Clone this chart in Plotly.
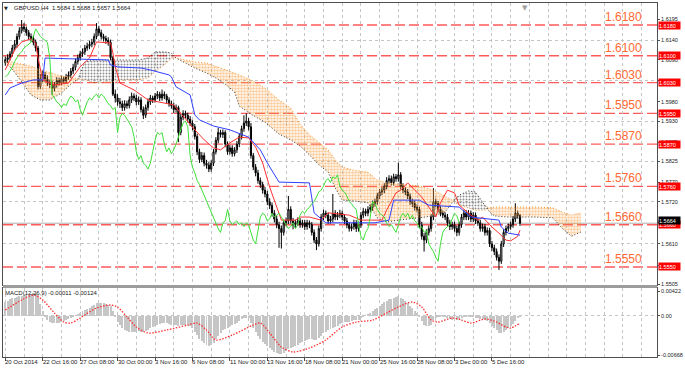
import plotly.graph_objects as go
import numpy as np

# ---------------- price data (H4 bars, GBPUSD) ----------------
opens = [
    1.6082, 1.6090, 1.6095, 1.6105, 1.6120, 1.6130, 1.6150, 1.6165, 1.6175, 1.6170,
    1.6160, 1.6150, 1.6145, 1.6135, 1.6120, 1.6020, 1.6040, 1.6050, 1.6040, 1.6030,
    1.6025, 1.6015, 1.6025, 1.6035, 1.6030, 1.6040, 1.6035, 1.6045, 1.6050, 1.6060,
    1.6070, 1.6085, 1.6095, 1.6105, 1.6110, 1.6120, 1.6125, 1.6130, 1.6135, 1.6150,
    1.6170, 1.6160, 1.6150, 1.6145, 1.6140, 1.6135, 1.6095, 1.6000, 1.5990, 1.5980,
    1.5975, 1.5965, 1.5975, 1.5970, 1.5985, 1.5995, 1.5990, 1.5980, 1.5985, 1.5960,
    1.5945, 1.5965, 1.5980, 1.5990, 1.5985, 1.5995, 1.6000, 1.5990, 1.6000, 1.5995,
    1.5985, 1.5975, 1.5970, 1.5960, 1.5965, 1.5900, 1.5940, 1.5950, 1.5945, 1.5935, 1.5925,
    1.5915, 1.5890, 1.5850, 1.5830, 1.5840, 1.5820, 1.5815, 1.5805, 1.5820, 1.5850,
    1.5880, 1.5900, 1.5895, 1.5900, 1.5870, 1.5850, 1.5860, 1.5845, 1.5855, 1.5870,
    1.5890, 1.5910, 1.5925, 1.5930, 1.5915, 1.5840, 1.5810, 1.5795, 1.5775, 1.5765,
    1.5750, 1.5740, 1.5720, 1.5710, 1.5690, 1.5675, 1.5660, 1.5650, 1.5640, 1.5665,
    1.5670, 1.5700, 1.5670, 1.5660, 1.5665, 1.5670, 1.5660, 1.5665, 1.5655, 1.5665,
    1.5660, 1.5640, 1.5620, 1.5610, 1.5650, 1.5680, 1.5690, 1.5685, 1.5670, 1.5675,
    1.5690, 1.5680, 1.5685, 1.5690, 1.5680, 1.5670, 1.5660, 1.5650, 1.5655, 1.5665,
    1.5650, 1.5660, 1.5685, 1.5695, 1.5690, 1.5700, 1.5705, 1.5715, 1.5720, 1.5735,
    1.5745, 1.5750, 1.5760, 1.5775, 1.5780, 1.5770, 1.5785, 1.5780, 1.5790, 1.5760,
    1.5750, 1.5745, 1.5735, 1.5720, 1.5715, 1.5705, 1.5700, 1.5660, 1.5630, 1.5620,
    1.5640, 1.5650, 1.5680, 1.5720, 1.5715, 1.5700, 1.5690, 1.5685, 1.5680, 1.5665, 1.5655,
    1.5660, 1.5650, 1.5640, 1.5660, 1.5680, 1.5690, 1.5680, 1.5690, 1.5675, 1.5685,
    1.5670, 1.5665, 1.5650, 1.5655, 1.5640, 1.5645, 1.5610, 1.5600, 1.5590, 1.5575,
    1.5565, 1.5610, 1.5640, 1.5650, 1.5655, 1.5660, 1.5675, 1.5690, 1.5684,
]
highs = [
    1.6098, 1.6104, 1.6112, 1.6128, 1.6141, 1.6158, 1.6174, 1.6193, 1.6185, 1.6176,
    1.6167, 1.6158, 1.6153, 1.6142, 1.6126, 1.6052, 1.6061, 1.6058, 1.6049, 1.6038,
    1.6034, 1.6032, 1.6044, 1.6043, 1.6048, 1.6046, 1.6053, 1.6059, 1.6068, 1.6079,
    1.6093, 1.6103, 1.6113, 1.6119, 1.6128, 1.6134, 1.6139, 1.6144, 1.6158, 1.6185,
    1.6178, 1.6168, 1.6157, 1.6152, 1.6148, 1.6142, 1.6100, 1.6012, 1.6000, 1.5990,
    1.5983, 1.5984, 1.5983, 1.5994, 1.6004, 1.6002, 1.5998, 1.5994, 1.5992, 1.5968,
    1.5973, 1.5989, 1.5998, 1.5996, 1.6003, 1.6008, 1.6006, 1.6012, 1.6007, 1.6001,
    1.5992, 1.5983, 1.5978, 1.5973, 1.5970, 1.5948, 1.5958, 1.5957, 1.5952, 1.5943, 1.5932,
    1.5922, 1.5897, 1.5858, 1.5849, 1.5848, 1.5829, 1.5823, 1.5828, 1.5857, 1.5888,
    1.5912, 1.5907, 1.5908, 1.5906, 1.5877, 1.5868, 1.5867, 1.5862, 1.5878, 1.5898,
    1.5918, 1.5945, 1.5950, 1.5938, 1.5925, 1.5847, 1.5818, 1.5803, 1.5783, 1.5772,
    1.5758, 1.5748, 1.5729, 1.5718, 1.5698, 1.5684, 1.5668, 1.5658, 1.5673, 1.5679,
    1.5735, 1.5708, 1.5678, 1.5673, 1.5679, 1.5677, 1.5673, 1.5672, 1.5673, 1.5671,
    1.5667, 1.5648, 1.5628, 1.5658, 1.5688, 1.5699, 1.5697, 1.5692, 1.5683, 1.5740,
    1.5698, 1.5693, 1.5699, 1.5697, 1.5688, 1.5678, 1.5667, 1.5663, 1.5673, 1.5672,
    1.5668, 1.5693, 1.5704, 1.5702, 1.5708, 1.5713, 1.5723, 1.5728, 1.5743, 1.5753,
    1.5758, 1.5768, 1.5784, 1.5789, 1.5788, 1.5793, 1.5792, 1.5822, 1.5797, 1.5768,
    1.5758, 1.5753, 1.5742, 1.5728, 1.5723, 1.5713, 1.5707, 1.5668, 1.5638, 1.5648,
    1.5658, 1.5688, 1.5755, 1.5728, 1.5722, 1.5708, 1.5697, 1.5692, 1.5688, 1.5673, 1.5668,
    1.5668, 1.5658, 1.5668, 1.5688, 1.5699, 1.5698, 1.5698, 1.5697, 1.5693, 1.5692,
    1.5678, 1.5673, 1.5663, 1.5662, 1.5653, 1.5652, 1.5618, 1.5608, 1.5598, 1.5583,
    1.5618, 1.5648, 1.5658, 1.5663, 1.5668, 1.5683, 1.5716, 1.5697, 1.5688,
]
lows = [
    1.6074, 1.6081, 1.6088, 1.6098, 1.6112, 1.6121, 1.6142, 1.6158, 1.6162, 1.6152,
    1.6141, 1.6136, 1.6127, 1.6111, 1.6012, 1.6013, 1.6031, 1.6032, 1.6021, 1.6016,
    1.5998, 1.6007, 1.6017, 1.6022, 1.6023, 1.6027, 1.6028, 1.6037, 1.6042, 1.6052,
    1.6062, 1.6077, 1.6087, 1.6097, 1.6102, 1.6113, 1.6117, 1.6122, 1.6127, 1.6143,
    1.6152, 1.6142, 1.6137, 1.6131, 1.6126, 1.6088, 1.5995, 1.5978, 1.5970, 1.5964,
    1.5956, 1.5957, 1.5962, 1.5963, 1.5977, 1.5982, 1.5971, 1.5972, 1.5952, 1.5935,
    1.5938, 1.5957, 1.5972, 1.5977, 1.5978, 1.5987, 1.5982, 1.5983, 1.5987, 1.5977,
    1.5967, 1.5962, 1.5951, 1.5952, 1.5875, 1.5893, 1.5932, 1.5937, 1.5926, 1.5917, 1.5906,
    1.5882, 1.5841, 1.5821, 1.5823, 1.5812, 1.5806, 1.5797, 1.5798, 1.5813, 1.5843,
    1.5872, 1.5887, 1.5886, 1.5862, 1.5842, 1.5843, 1.5837, 1.5838, 1.5847, 1.5862,
    1.5882, 1.5902, 1.5917, 1.5906, 1.5832, 1.5802, 1.5786, 1.5767, 1.5756, 1.5741,
    1.5731, 1.5711, 1.5701, 1.5681, 1.5666, 1.5651, 1.5600, 1.5598, 1.5632, 1.5656,
    1.5662, 1.5663, 1.5648, 1.5652, 1.5657, 1.5652, 1.5652, 1.5646, 1.5647, 1.5651,
    1.5632, 1.5612, 1.5594, 1.5603, 1.5642, 1.5672, 1.5677, 1.5662, 1.5663, 1.5667,
    1.5672, 1.5672, 1.5677, 1.5672, 1.5662, 1.5651, 1.5642, 1.5643, 1.5647, 1.5641,
    1.5642, 1.5652, 1.5677, 1.5682, 1.5682, 1.5692, 1.5697, 1.5707, 1.5712, 1.5727,
    1.5737, 1.5742, 1.5752, 1.5767, 1.5762, 1.5762, 1.5772, 1.5772, 1.5752, 1.5742,
    1.5737, 1.5727, 1.5712, 1.5706, 1.5697, 1.5692, 1.5652, 1.5621, 1.5590, 1.5612,
    1.5632, 1.5642, 1.5672, 1.5706, 1.5692, 1.5682, 1.5677, 1.5672, 1.5657, 1.5646, 1.5647,
    1.5642, 1.5630, 1.5632, 1.5652, 1.5672, 1.5672, 1.5672, 1.5667, 1.5667, 1.5662,
    1.5657, 1.5642, 1.5642, 1.5632, 1.5632, 1.5602, 1.5592, 1.5581, 1.5567, 1.5542,
    1.5558, 1.5602, 1.5632, 1.5642, 1.5647, 1.5652, 1.5667, 1.5676, 1.5657,
]
closes = [
    1.6090, 1.6095, 1.6105, 1.6120, 1.6130, 1.6150, 1.6165, 1.6175, 1.6170, 1.6160,
    1.6150, 1.6145, 1.6135, 1.6120, 1.6020, 1.6040, 1.6050, 1.6040, 1.6030, 1.6025,
    1.6015, 1.6025, 1.6035, 1.6030, 1.6040, 1.6035, 1.6045, 1.6050, 1.6060, 1.6070,
    1.6085, 1.6095, 1.6105, 1.6110, 1.6120, 1.6125, 1.6130, 1.6135, 1.6150, 1.6170,
    1.6160, 1.6150, 1.6145, 1.6140, 1.6135, 1.6095, 1.6000, 1.5990, 1.5980, 1.5975,
    1.5965, 1.5975, 1.5970, 1.5985, 1.5995, 1.5990, 1.5980, 1.5985, 1.5960, 1.5945,
    1.5965, 1.5980, 1.5990, 1.5985, 1.5995, 1.6000, 1.5990, 1.6000, 1.5995, 1.5985,
    1.5975, 1.5970, 1.5960, 1.5965, 1.5900, 1.5940, 1.5950, 1.5945, 1.5935, 1.5925, 1.5915,
    1.5890, 1.5850, 1.5830, 1.5840, 1.5820, 1.5815, 1.5805, 1.5820, 1.5850, 1.5880,
    1.5900, 1.5895, 1.5900, 1.5870, 1.5850, 1.5860, 1.5845, 1.5855, 1.5870, 1.5890,
    1.5910, 1.5925, 1.5930, 1.5915, 1.5840, 1.5810, 1.5795, 1.5775, 1.5765, 1.5750,
    1.5740, 1.5720, 1.5710, 1.5690, 1.5675, 1.5660, 1.5650, 1.5640, 1.5665, 1.5670,
    1.5700, 1.5670, 1.5660, 1.5665, 1.5670, 1.5660, 1.5665, 1.5655, 1.5665, 1.5660,
    1.5640, 1.5620, 1.5610, 1.5650, 1.5680, 1.5690, 1.5685, 1.5670, 1.5675, 1.5690,
    1.5680, 1.5685, 1.5690, 1.5680, 1.5670, 1.5660, 1.5650, 1.5655, 1.5665, 1.5650,
    1.5660, 1.5685, 1.5695, 1.5690, 1.5700, 1.5705, 1.5715, 1.5720, 1.5735, 1.5745,
    1.5750, 1.5760, 1.5775, 1.5780, 1.5770, 1.5785, 1.5780, 1.5790, 1.5760, 1.5750,
    1.5745, 1.5735, 1.5720, 1.5715, 1.5705, 1.5700, 1.5660, 1.5630, 1.5620, 1.5640,
    1.5650, 1.5680, 1.5720, 1.5715, 1.5700, 1.5690, 1.5685, 1.5680, 1.5665, 1.5655, 1.5660,
    1.5650, 1.5640, 1.5660, 1.5680, 1.5690, 1.5680, 1.5690, 1.5675, 1.5685, 1.5670,
    1.5665, 1.5650, 1.5655, 1.5640, 1.5645, 1.5610, 1.5600, 1.5590, 1.5575, 1.5565,
    1.5610, 1.5640, 1.5650, 1.5655, 1.5660, 1.5675, 1.5690, 1.5684, 1.5664,
]

# ---------------- Ichimoku ----------------
tenkan_bars = [0, 4, 7, 11, 13, 14, 16, 21, 27, 32, 36, 39, 45, 46, 47, 49, 55, 61, 72, 80,
               85, 89, 92, 96, 100, 104, 107, 110, 113, 116, 118, 124, 126, 130, 135, 138, 147,
               152, 161, 163, 167, 169, 172, 175, 178, 181, 184, 186, 189, 192, 194, 199, 202,
               204, 208, 211, 214, 216, 219, 220]
tenkan = [1.6063, 1.6115, 1.6136, 1.6144, 1.6133, 1.6094, 1.6037, 1.6024, 1.6029, 1.6071,
          1.6094, 1.6136, 1.6133, 1.6107, 1.6071, 1.6029, 1.6011, 1.5985, 1.5972, 1.5914,
          1.5881, 1.5860, 1.5855, 1.5873, 1.5888, 1.5886, 1.5862, 1.5821, 1.5758, 1.5706,
          1.5672, 1.5672, 1.5680, 1.5680, 1.5672, 1.5691, 1.5685, 1.5672, 1.5672, 1.5698,
          1.5743, 1.5750, 1.5769, 1.5750, 1.5732, 1.5706, 1.5680, 1.5717, 1.5750, 1.5743,
          1.5711, 1.5685, 1.5672, 1.5680, 1.5654, 1.5638, 1.5620, 1.5618, 1.5630, 1.5646]

kijun_bars = [0, 2, 7, 12, 16, 17, 44, 45, 48, 58, 62, 70, 71, 73, 79, 81, 83, 89, 96, 104,
              109, 112, 117, 130, 132, 137, 158, 164, 166, 177, 181, 194, 199, 211, 212, 215, 220]
kijun = [1.5998, 1.6016, 1.6029, 1.6037, 1.6037, 1.6094, 1.6089, 1.6076, 1.6071, 1.6068,
         1.6063, 1.6050, 1.6045, 1.6019, 1.5998, 1.5946, 1.5933, 1.5917, 1.5907, 1.5888,
         1.5855, 1.5821, 1.5771, 1.5769, 1.5691, 1.5665, 1.5665, 1.5672, 1.5724, 1.5724,
         1.5711, 1.5706, 1.5680, 1.5672, 1.5654, 1.5638, 1.5633]

cloud_bars = [0, 3, 7, 11, 15, 19, 24, 28, 31, 34, 38, 45, 51, 57, 61, 64, 68, 71, 73, 77,
              81, 86, 90, 94, 98, 100, 105, 111, 117, 122, 126, 130, 134, 138, 141, 144, 149,
              155, 159, 163, 168, 177, 183, 188, 191, 194, 198, 201, 205, 207, 209, 215, 220,
              227, 234, 238, 242, 246]
span_a = [1.6084, 1.6084, 1.6078, 1.6073, 1.6063, 1.6055, 1.6047, 1.6045, 1.6039, 1.6037,
          1.6029, 1.6032, 1.6037, 1.6037, 1.6042, 1.6058, 1.6076, 1.6094, 1.6094, 1.6089,
          1.6084, 1.6081, 1.6073, 1.6063, 1.6055, 1.6050, 1.6037, 1.6016, 1.5985, 1.5964,
          1.5922, 1.5894, 1.5875, 1.5855, 1.5829, 1.5810, 1.5802, 1.5797, 1.5776, 1.5769,
          1.5766, 1.5761, 1.5750, 1.5735, 1.5724, 1.5711, 1.5704, 1.5698, 1.5698, 1.5704,
          1.5706, 1.5706, 1.5706, 1.5706, 1.5704, 1.5693, 1.5685, 1.5691]
span_b = [1.6081, 1.6065, 1.6032, 1.5998, 1.5985, 1.5985, 1.6003, 1.6026, 1.6039, 1.6084,
          1.6089, 1.6089, 1.6089, 1.6089, 1.6094, 1.6110, 1.6110, 1.6107, 1.6094, 1.6081,
          1.6068, 1.6055, 1.6042, 1.6026, 1.6006, 1.5969, 1.5948, 1.5927, 1.5896, 1.5881,
          1.5865, 1.5842, 1.5816, 1.5797, 1.5756, 1.5724, 1.5722, 1.5717, 1.5678, 1.5667,
          1.5672, 1.5678, 1.5683, 1.5693, 1.5717, 1.5737, 1.5748, 1.5745, 1.5711, 1.5693,
          1.5683, 1.5680, 1.5680, 1.5680, 1.5678, 1.5651, 1.5630, 1.5641]
chikou_shift = 26

# ---------------- MACD (12,26,9) ----------------
macd_main = [
    0.0024, 0.0026, 0.0028, 0.0030, 0.0031, 0.0032, 0.0033, 0.0034, 0.0035, 0.0036,
    0.0036, 0.0037, 0.0039, 0.0038, 0.0035, 0.0020, 0.0008, -0.0002, -0.0008, -0.0011,
    -0.0013, -0.0012, -0.0013, -0.0012, -0.0010, -0.0009, -0.0008, -0.0006, -0.0004, -0.0002,
    0.0000, 0.0002, 0.0005, 0.0008, 0.0010, 0.0012, 0.0014, 0.0016, 0.0018, 0.0021,
    0.0022, 0.0022, 0.0021, 0.0020, 0.0019, 0.0017, 0.0008, -0.0002, -0.0010, -0.0016,
    -0.0021, -0.0024, -0.0026, -0.0027, -0.0028, -0.0028, -0.0027, -0.0026, -0.0027, -0.0028,
    -0.0026, -0.0024, -0.0021, -0.0019, -0.0017, -0.0015, -0.0014, -0.0013, -0.0013, -0.0013,
    -0.0014, -0.0015, -0.0015, -0.0015, -0.0017, -0.0016, -0.0015, -0.0015, -0.0016, -0.0018, -0.0021,
    -0.0027, -0.0033, -0.0039, -0.0043, -0.0047, -0.0050, -0.0052, -0.0050, -0.0046, -0.0040,
    -0.0034, -0.0029, -0.0025, -0.0022, -0.0020, -0.0018, -0.0016, -0.0014, -0.0012, -0.0009,
    -0.0006, -0.0004, -0.0003, -0.0004, -0.0012, -0.0020, -0.0027, -0.0034, -0.0040, -0.0045,
    -0.0048, -0.0052, -0.0055, -0.0058, -0.0061, -0.0063, -0.0065, -0.0065, -0.0063, -0.0060,
    -0.0056, -0.0054, -0.0053, -0.0051, -0.0049, -0.0047, -0.0045, -0.0043, -0.0041, -0.0040,
    -0.0040, -0.0041, -0.0041, -0.0038, -0.0034, -0.0030, -0.0027, -0.0025, -0.0023, -0.0021,
    -0.0019, -0.0017, -0.0014, -0.0012, -0.0011, -0.0010, -0.0010, -0.0009, -0.0008, -0.0008,
    -0.0007, -0.0004, -0.0002, 0.0000, 0.0003, 0.0005, 0.0008, 0.0011, 0.0014, 0.0017,
    0.0020, 0.0023, 0.0026, 0.0028, 0.0029, 0.0031, 0.0032, 0.0033, 0.0031, 0.0028,
    0.0025, 0.0021, 0.0017, 0.0013, 0.0009, 0.0004, -0.0002, -0.0009, -0.0015, -0.0018,
    -0.0018, -0.0015, -0.0008, -0.0004, -0.0002, -0.0001, -0.0001, -0.0002, -0.0004, -0.0006, -0.0007,
    -0.0008, -0.0008, -0.0006, -0.0004, -0.0002, -0.0002, -0.0001, -0.0002, -0.0002, -0.0003,
    -0.0004, -0.0005, -0.0006, -0.0008, -0.0009, -0.0013, -0.0017, -0.0021, -0.0025, -0.0029,
    -0.0029, -0.0027, -0.0024, -0.0021, -0.0018, -0.0014, -0.0009, -0.0004, -0.00011,
]
signal_bars = [0, 7, 12, 16, 21, 25, 28, 32, 39, 45, 48, 52, 56, 61, 69, 78, 82, 86, 90, 97,
               106, 109, 113, 118, 123, 130, 137, 144, 150, 157, 163, 168, 174, 178, 182, 185,
               191, 195, 199, 205, 209, 214, 216, 220]
signal = [0.00099, 0.00269, 0.00354, 0.00269, 0.00048, -0.00106, -0.00123, -0.00037, 0.00133,
          0.00184, 0.00150, -0.00020, -0.00191, -0.00293, -0.00242, -0.00157, -0.00123, -0.00242,
          -0.00412, -0.00327, -0.00157, -0.00123, -0.00293, -0.00531, -0.00616, -0.00548, -0.00412,
          -0.00191, -0.00106, -0.00072, 0.00048, 0.00150, 0.00235, 0.00150, -0.00072, -0.00106,
          -0.00037, -0.00072, -0.00123, -0.00054, -0.00089, -0.00191, -0.00208, -0.00124]

# ---------------- levels, ticks, labels ----------------
levels = [1.6180, 1.6100, 1.6030, 1.5950, 1.5870, 1.5760, 1.5660, 1.5550]
bid_price = 1.5664
price_ticks = [1.6195, 1.6140, 1.6090, 1.6035, 1.5980, 1.5930, 1.5875, 1.5825, 1.5770,
               1.5720, 1.5665, 1.5610, 1.5555, 1.5505]
price_grid = [1.6140, 1.6035, 1.5930, 1.5825, 1.5720, 1.5610]
macd_ticks = [0.00422, 0.0, -0.00668]
macd_tick_text = ["0.00422", "0.00", "-0.00668"]
time_bars = [0, 16, 32, 48, 64, 80, 96, 112, 128, 144, 160, 176, 192, 208]
time_labels = ["20 Oct 2014", "22 Oct 16:00", "27 Oct 08:00", "30 Oct 00:00", "3 Nov 16:00",
               "6 Nov 08:00", "11 Nov 00:00", "13 Nov 16:00", "18 Nov 08:00", "21 Nov 00:00",
               "25 Nov 16:00", "28 Nov 08:00", "3 Dec 00:00", "5 Dec 16:00"]
title_text = "GBPUSD,H4  1.5684 1.5688 1.5657 1.5664"
macd_text = "MACD(12,26,9) -0.00011 -0.00124"

FONT = "Liberation Sans, Arial, sans-serif"
ORANGE = "#f89a38"
LEVEL_RED = "#ff5a5a"
LABEL_ORANGE = "#ff6a33"
SMALL = 6

n = len(closes)
bars = list(range(n))

fig = go.Figure()

# Ichimoku cloud (dotted hatch)
a_arr = np.array(span_a)
b_arr = np.array(span_b)
cloud_top = np.maximum(a_arr, b_arr)
fig.add_trace(go.Scatter(x=cloud_bars, y=span_b, mode="lines", line=dict(width=0),
                         hoverinfo="skip"))
fig.add_trace(go.Scatter(x=cloud_bars, y=cloud_top, mode="lines", line=dict(width=0),
                         fill="tonexty", fillcolor="rgba(0,0,0,0)",
                         fillpattern=dict(shape=".", fgcolor=ORANGE, bgcolor="rgba(255,255,255,0)",
                                          size=3, solidity=0.6), hoverinfo="skip"))
fig.add_trace(go.Scatter(x=cloud_bars, y=span_a, mode="lines", line=dict(width=0),
                         hoverinfo="skip"))
fig.add_trace(go.Scatter(x=cloud_bars, y=cloud_top, mode="lines", line=dict(width=0),
                         fill="tonexty", fillcolor="rgba(0,0,0,0)",
                         fillpattern=dict(shape=".", fgcolor="#222222", bgcolor="rgba(255,255,255,0)",
                                          size=3, solidity=0.35), hoverinfo="skip"))
fig.add_trace(go.Scatter(x=cloud_bars, y=span_a, mode="lines",
                         line=dict(color=ORANGE, width=1, dash="1px,2px")))
fig.add_trace(go.Scatter(x=cloud_bars, y=span_b, mode="lines",
                         line=dict(color="#333333", width=1, dash="1px,2px")))

# candles
fig.add_trace(go.Candlestick(
    x=bars, open=opens, high=highs, low=lows, close=closes,
    increasing=dict(line=dict(color="black", width=1), fillcolor="white"),
    decreasing=dict(line=dict(color="black", width=1), fillcolor="black"),
    whiskerwidth=0, xaxis="x", yaxis="y"))

# Ichimoku lines
fig.add_trace(go.Scatter(x=tenkan_bars, y=tenkan, mode="lines",
                         line=dict(color="#ff3030", width=1)))
fig.add_trace(go.Scatter(x=kijun_bars, y=kijun, mode="lines",
                         line=dict(color="#3040ff", width=1)))
fig.add_trace(go.Scatter(x=bars[:n - chikou_shift], y=closes[chikou_shift:], mode="lines",
                         line=dict(color="#3ee03a", width=1)))

# MACD pane
fig.add_trace(go.Bar(x=bars, y=macd_main, marker=dict(color="#c6c6c6", line=dict(width=0)),
                     width=0.42, xaxis="x2", yaxis="y2"))
fig.add_trace(go.Scatter(x=signal_bars, y=signal, mode="lines",
                         line=dict(color="#ff3030", width=1.3, dash="1.5px,1.5px",
                                   shape="spline", smoothing=0.8),
                         xaxis="x2", yaxis="y2"))

grid_major = [b for b in range(16, 281, 16)]
grid_minor = [b for b in range(8, 281, 16)]
x_range = [-0.977, 278.55]
axis_line = "#505050"
grid_col = "#c4c4c4"

fig.update_layout(
    width=685, height=370,
    margin=dict(l=2, r=25, t=3, b=13, pad=0),
    paper_bgcolor="white", plot_bgcolor="white",
    showlegend=False,
    bargap=0,
    font=dict(family=FONT, size=SMALL, color="black"),
    xaxis=dict(domain=[0, 1], anchor="y", range=x_range, rangeslider=dict(visible=False),
               tickmode="array", tickvals=grid_major, showticklabels=False, ticks="",
               showgrid=True, gridcolor=grid_col, griddash="dot", gridwidth=1,
               minor=dict(tickvals=grid_minor, showgrid=True, gridcolor=grid_col, griddash="dot",
                          ticks=""),
               zeroline=False, showline=True, mirror=True, linecolor=axis_line, linewidth=1),
    xaxis2=dict(domain=[0, 1], anchor="y2", range=x_range, matches="x",
                tickmode="array", tickvals=time_bars, showticklabels=False,
                ticks="outside", ticklen=3, tickcolor=axis_line,
                showgrid=True, gridcolor=grid_col, griddash="dot",
                minor=dict(tickvals=grid_minor + [b for b in grid_major if b not in time_bars],
                           showgrid=True, gridcolor=grid_col, griddash="dot", ticks=""),
                zeroline=False, showline=True, mirror=True, linecolor=axis_line, linewidth=1),
    yaxis=dict(domain=[0.2034, 1], anchor="x", side="right", range=[1.55031, 1.62373],
               tickmode="array", tickvals=price_ticks, ticktext=[f"{v:.4f}" for v in price_ticks],
               ticks="outside", ticklen=2, tickcolor=axis_line,
               tickfont=dict(family=FONT, size=5.5, color="#202020"),
               showgrid=False,
               minor=dict(tickvals=price_grid, showgrid=True, gridcolor=grid_col, griddash="dot",
                          ticks=""),
               zeroline=False, showline=True, mirror=True, linecolor=axis_line, linewidth=1),
    yaxis2=dict(domain=[0, 0.1949], anchor="x2", side="right", range=[-0.007016, 0.004734],
                tickmode="array", tickvals=macd_ticks, ticktext=macd_tick_text,
                ticks="outside", ticklen=2, tickcolor=axis_line,
                tickfont=dict(family=FONT, size=5.5, color="#202020"),
                showgrid=False,
                minor=dict(tickvals=[0.0], showgrid=True, gridcolor=grid_col, griddash="dot",
                           ticks=""),
                zeroline=False, showline=True, mirror=True, linecolor=axis_line, linewidth=1),
)

shapes = []
# separator band between the panes
shapes.append(dict(type="rect", xref="paper", yref="paper", x0=0, x1=1, y0=0.1949, y1=0.2034,
                   fillcolor="#9c9c9c", line=dict(width=0), layer="above"))
# support/resistance levels
for lv in levels:
    shapes.append(dict(type="line", xref="paper", yref="y", x0=0, x1=1, y0=lv, y1=lv,
                       line=dict(color=LEVEL_RED, width=1.3, dash="10px,4px"), layer="between"))
# bid line
shapes.append(dict(type="line", xref="paper", yref="y", x0=0, x1=1, y0=bid_price, y1=bid_price,
                   line=dict(color="#b0b0b0", width=1), layer="between"))
fig.update_layout(shapes=shapes)

ann = []
for lv in levels:
    ann.append(dict(x=0.9195, xref="paper", y=lv, yref="y", xanchor="left", yanchor="middle",
                    yshift=8, text=f"{lv:.4f}", showarrow=False, borderpad=0,
                    font=dict(family=FONT, size=12, color=LABEL_ORANGE)))
    ann.append(dict(x=1, xref="paper", y=lv, yref="y", xanchor="left", yanchor="middle",
                    xshift=1, text=f"{lv:.4f}", showarrow=False, bgcolor="#ff0000",
                    borderpad=0, width=21, height=7, align="left",
                    font=dict(family=FONT, size=5.5, color="white")))
ann.append(dict(x=1, xref="paper", y=bid_price, yref="y", xanchor="left", yanchor="middle",
                xshift=1, yshift=3, text=f"{bid_price:.4f}", showarrow=False, bgcolor="black",
                borderpad=0, width=21, height=7, align="left",
                font=dict(family=FONT, size=5.5, color="white")))
for b, t in zip(time_bars, time_labels):
    ann.append(dict(x=b, xref="x", y=0, yref="paper", xanchor="left", yanchor="top",
                    xshift=-1, yshift=-1, text=t, showarrow=False, borderpad=0,
                    font=dict(family=FONT, size=SMALL, color="#202020")))
ann.append(dict(x=0.0152, xref="paper", y=0.9859, yref="paper", xanchor="left", yanchor="middle",
                text=title_text, showarrow=False, borderpad=0,
                font=dict(family=FONT, size=SMALL, color="#202020")))
ann.append(dict(x=0.0045, xref="paper", y=0.9865, yref="paper", xanchor="center", yanchor="middle",
                text="\u25bc", showarrow=False, borderpad=0,
                font=dict(family="DejaVu Sans", size=5, color="#202020")))
ann.append(dict(x=0.0015, xref="paper", y=0.1808, yref="paper", xanchor="left", yanchor="middle",
                text=macd_text, showarrow=False, borderpad=0,
                font=dict(family=FONT, size=SMALL, color="#202020")))
ann.append(dict(x=n + 1, xref="x", y=1, yref="paper", xanchor="center", yanchor="top",
                text="\u25bc", showarrow=False, borderpad=0,
                font=dict(family="DejaVu Sans", size=7, color="#a0a0a0")))
fig.update_layout(annotations=ann)

fig.write_html("out.html", config={"displayModeBar": False},
               post_script="document.body.style.margin='0px';")
